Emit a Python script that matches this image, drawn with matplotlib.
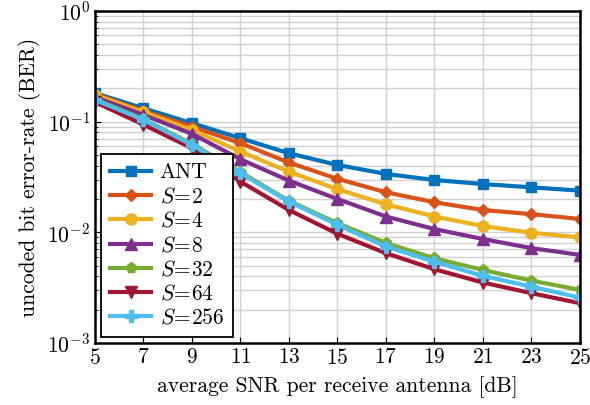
import matplotlib
matplotlib.use("Agg")
import matplotlib.pyplot as plt
import numpy as np

plt.rcParams['font.family'] = 'serif'
plt.rcParams['font.serif'] = ['cmr10']
plt.rcParams['mathtext.fontset'] = 'cm'
plt.rcParams['axes.formatter.use_mathtext'] = True
plt.rcParams['axes.unicode_minus'] = False

snr = [5, 7, 9, 11, 13, 15, 17, 19, 21, 23, 25]

ber_ant = [0.181, 0.132, 0.0968, 0.0708, 0.0518, 0.0406, 0.0337, 0.0297, 0.0273, 0.0255, 0.0238]
ber_s2 = [0.178, 0.125, 0.090, 0.0638, 0.0427, 0.0304, 0.0230, 0.0187, 0.0159, 0.0146, 0.0132]
ber_s4 = [0.174, 0.122, 0.084, 0.0536, 0.0353, 0.0245, 0.0179, 0.0139, 0.0114, 0.0099, 0.0090]
ber_s8 = [0.166, 0.115, 0.0775, 0.0457, 0.0293, 0.0200, 0.0139, 0.0107, 0.0087, 0.0072, 0.00625]
ber_s32 = [0.160, 0.105, 0.063, 0.0350, 0.0192, 0.0121, 0.0080, 0.00583, 0.00457, 0.00366, 0.00302]
ber_s64 = [0.150, 0.094, 0.0575, 0.0287, 0.0159, 0.0097, 0.00648, 0.00464, 0.00352, 0.00282, 0.00229]
ber_s256 = [0.157, 0.104, 0.0616, 0.0342, 0.0189, 0.0117, 0.00743, 0.00543, 0.00404, 0.00323, 0.00257]

labels = ['ANT', r'$S\!=\!2$', r'$S\!=\!4$', r'$S\!=\!8$', r'$S\!=\!32$', r'$S\!=\!64$', r'$S\!=\!256$']
colors = ['#0072BD', '#D95319', '#EDB120', '#7E2F8E', '#77AC30', '#A2142F', '#4DBEEE']
markers = ['s', 'D', 'o', '^', 'p', 'v', 'P']
sizes = [7, 6, 8, 8, 8, 8, 9]

fig = plt.figure(figsize=(5.9, 4.05), dpi=100)
ax = fig.add_axes([0.161, 0.153, 0.822, 0.820])

series = [ber_ant, ber_s2, ber_s4, ber_s8, ber_s32, ber_s64, ber_s256]
for y, lab, c, m, ms in zip(series, labels, colors, markers, sizes):
    ax.plot(snr, y, color=c, marker=m, markersize=ms, linewidth=3, label=lab)

ax.set_yscale('log')
ax.set_xlim(5, 25)
ax.set_ylim(1e-3, 1)
ax.set_xticks(snr)
ax.grid(True, which='major', color='#d0d0d0', linewidth=1)
ax.grid(True, which='minor', axis='y', color='#d0d0d0', linewidth=1)
ax.tick_params(which='both', direction='in', labelsize=15.5)
ax.tick_params(which='major', length=4)
ax.tick_params(which='minor', length=2.5)
for s in ax.spines.values():
    s.set_linewidth(1.8)
ax.set_xlabel('average SNR per receive antenna [dB]', fontsize=15.5, labelpad=6)
ax.set_ylabel('uncoded bit error-rate (BER)', fontsize=15.5)

leg = ax.legend(loc='lower left', fontsize=15.5, fancybox=False, edgecolor='black',
                framealpha=1, handlelength=1.9, borderaxespad=0.3, labelspacing=0.2,
                handletextpad=0.4, borderpad=0.4)
leg.get_frame().set_linewidth(1.3)

fig.savefig('out.png', dpi=100)
